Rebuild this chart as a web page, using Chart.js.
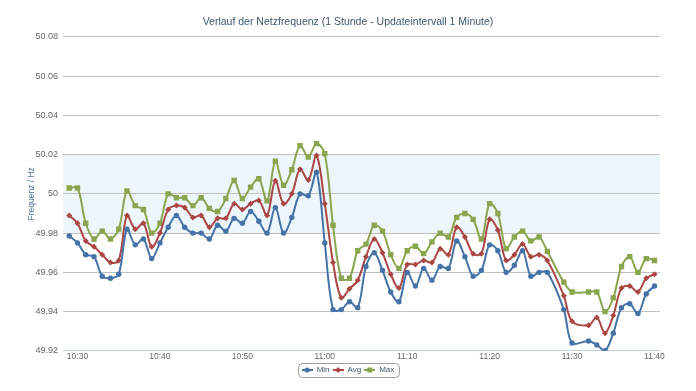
<!DOCTYPE html>
<html>
<head>
<meta charset="utf-8">
<script src="https://cdn.jsdelivr.net/npm/chart.js@4.4.0/dist/chart.umd.min.js"></script>
<style>
  html, body { margin: 0; padding: 0; background: #fff; }
</style>
</head>
<body>
<canvas id="freqChart" width="696" height="391"></canvas>
<script>
const times = [
    '10:29', '10:30', '10:31', '10:32', '10:33', '10:34', '10:35', '10:36', '10:37', '10:38',
    '10:39', '10:40', '10:41', '10:42', '10:43', '10:44', '10:45', '10:46', '10:47', '10:48',
    '10:49', '10:50', '10:51', '10:52', '10:53', '10:54', '10:55', '10:56', '10:57', '10:58',
    '10:59', '11:00', '11:01', '11:02', '11:03', '11:04', '11:05', '11:06', '11:07', '11:08',
    '11:09', '11:10', '11:11', '11:12', '11:13', '11:14', '11:15', '11:16', '11:17', '11:18',
    '11:19', '11:20', '11:21', '11:22', '11:23', '11:24', '11:25', '11:26', '11:27',
    '11:29', '11:30',
    '11:32', '11:33', '11:34', '11:35', '11:36', '11:37', '11:38', '11:39', '11:40'
];
const minValues = [
    49.9785, 49.975, 49.969, 49.968, 49.958, 49.957, 49.959, 49.982, 49.974, 49.977,
    49.967, 49.975, 49.983, 49.989, 49.983, 49.980, 49.980, 49.977, 49.984, 49.981,
    49.9875, 49.985, 49.991, 49.986, 49.980, 49.993, 49.980, 49.988, 50.000, 49.999,
    50.011, 49.975, 49.941, 49.941, 49.945, 49.942, 49.963, 49.970, 49.961, 49.950,
    49.945, 49.960, 49.953, 49.962, 49.956, 49.963, 49.962, 49.976, 49.968, 49.958,
    49.961, 49.974, 49.971, 49.960, 49.9636, 49.971, 49.958, 49.960, 49.960,
    49.941, 49.924,
    49.925, 49.923, 49.920, 49.929, 49.942, 49.944, 49.939, 49.949, 49.953
];
const avgValues = [
    49.989, 49.985, 49.976, 49.973, 49.969, 49.965, 49.966, 49.989, 49.982, 49.985,
    49.973, 49.980, 49.992, 49.994, 49.993, 49.988, 49.989, 49.983, 49.9875, 49.9875,
    49.995, 49.992, 49.995, 49.9966, 49.989, 50.0067, 49.995, 50.000, 50.0125, 50.007,
    50.0195, 49.995, 49.965, 49.947, 49.9516, 49.956, 49.968, 49.977, 49.970, 49.959,
    49.952, 49.964, 49.964, 49.966, 49.965, 49.972, 49.969, 49.983, 49.978, 49.9695,
    49.9695, 49.987, 49.9815, 49.966, 49.969, 49.9745, 49.968, 49.969, 49.966,
    49.948, 49.935,
    49.933, 49.937, 49.929, 49.938, 49.952, 49.953, 49.950, 49.957, 49.959
];
const maxValues = [
    50.003, 50.003, 49.985, 49.977, 49.981, 49.977, 49.982, 50.0015, 49.994, 49.992,
    49.980, 49.985, 50.000, 49.998, 49.998, 49.994, 49.998, 49.9926, 49.991, 49.9976,
    50.0068, 49.9976, 50.0034, 50.0077, 49.9964, 50.0166, 50.0044, 50.0123, 50.0246, 50.0188,
    50.0256, 50.0205, 49.984, 49.957, 49.957, 49.971, 49.9744, 49.984, 49.981, 49.969,
    49.962, 49.971, 49.9733, 49.9695, 49.9755, 49.980, 49.978, 49.988, 49.990, 49.987,
    49.977, 49.995, 49.990, 49.972, 49.978, 49.981, 49.976, 49.978, 49.9707,
    49.955, 49.950,
    49.950, 49.950, 49.940, 49.947, 49.963, 49.968, 49.960, 49.967, 49.966
];
const xTickLabels = ['10:30', '10:40', '10:50', '11:00', '11:10', '11:20', '11:30', '11:40'];
const yTickValues = [49.92, 49.94, 49.96, 49.98, 50, 50.02, 50.04, 50.06, 50.08];
const bandRange = [49.98, 50.02];

const FONT = '"Liberation Sans", Arial, sans-serif';
const COLORS = ['#4572A7', '#AA4643', '#89A54E'];

function toMinutes(t) {
    const [h, m] = t.split(':').map(Number);
    return h * 60 + m;
}

function toLabel(v) {
    const h = Math.floor(v / 60);
    const m = Math.round(v - h * 60);
    return h + ':' + String(m).padStart(2, '0');
}

function points(values) {
    return values.map((v, i) => ({ x: toMinutes(times[i]), y: v }));
}

// small line+marker icons for the legend
function makeIcon(color, shape) {
    const c = document.createElement('canvas');
    c.width = 11;
    c.height = 8;
    const g = c.getContext('2d');
    g.strokeStyle = color;
    g.fillStyle = color;
    g.lineWidth = 2;
    g.beginPath();
    g.moveTo(0, 4);
    g.lineTo(11, 4);
    g.stroke();
    g.beginPath();
    if (shape === 'circle') {
        g.arc(5.5, 4, 2.6, 0, Math.PI * 2);
    } else if (shape === 'diamond') {
        g.moveTo(5.5, 1);
        g.lineTo(8.5, 4);
        g.lineTo(5.5, 7);
        g.lineTo(2.5, 4);
        g.closePath();
    } else {
        g.rect(3, 1.5, 5, 5);
    }
    g.fill();
    return c;
}
const legendIcons = [makeIcon(COLORS[0], 'circle'), makeIcon(COLORS[1], 'diamond'), makeIcon(COLORS[2], 'square')];

const plotBand = {
    id: 'plotBand',
    beforeDraw(chart) {
        const { ctx, chartArea } = chart;
        const y = chart.scales.y;
        const top = y.getPixelForValue(bandRange[1]);
        const bottom = y.getPixelForValue(bandRange[0]);
        ctx.save();
        ctx.fillStyle = 'rgba(68, 170, 213, 0.1)';
        ctx.fillRect(chartArea.left, top, chartArea.right - chartArea.left, bottom - top);
        ctx.restore();
    }
};

const legendFrame = {
    id: 'legendFrame',
    afterDraw(chart) {
        const boxes = chart.legend.legendHitBoxes;
        if (!boxes || !boxes.length) return;
        let l = Infinity, r = -Infinity, t = Infinity, b = -Infinity;
        boxes.forEach(h => {
            l = Math.min(l, h.left);
            r = Math.max(r, h.left + h.width);
            t = Math.min(t, h.top);
            b = Math.max(b, h.top + h.height);
        });
        const mid = (t + b) / 2;
        const ctx = chart.ctx;
        ctx.save();
        ctx.strokeStyle = '#A0A0A0';
        ctx.lineWidth = 1;
        ctx.beginPath();
        ctx.roundRect(Math.round(l - 4) + 0.5, Math.round(mid - 7) + 0.5, Math.round(r - l + 8), 14, 4);
        ctx.stroke();
        ctx.restore();
    }
};

const ctx = document.getElementById('freqChart').getContext('2d');

function lineSet(label, values, color, style, radius) {
    return {
        label: label,
        data: points(values),
        borderColor: color,
        backgroundColor: color,
        borderWidth: 2,
        tension: 0.35,
        pointStyle: style,
        pointRadius: radius,
        pointBorderWidth: 0,
        pointBackgroundColor: color,
        pointHoverRadius: radius
    };
}

new Chart(ctx, {
    type: 'line',
    data: {
        datasets: [
            lineSet('Min', minValues, COLORS[0], 'circle', 2.7),
            lineSet('Avg', avgValues, COLORS[1], 'rectRot', 3),
            lineSet('Max', maxValues, COLORS[2], 'rect', 3.8)
        ]
    },
    options: {
        responsive: false,
        animation: false,
        events: [],
        layout: {
            padding: { left: 0, right: 0, top: 0, bottom: 7 }
        },
        plugins: {
            title: {
                display: true,
                text: 'Verlauf der Netzfrequenz (1 Stunde - Updateintervall 1 Minute)',
                color: '#3E576F',
                font: { family: FONT, size: 10.5, weight: 'normal' },
                padding: { top: 16.3, bottom: 8 }
            },
            legend: {
                position: 'bottom',
                labels: {
                    usePointStyle: true,
                    pointStyleWidth: 11,
                    boxHeight: 8,
                    padding: 3,
                    color: '#3E576F',
                    font: { family: FONT, size: 8 },
                    generateLabels: chart => chart.data.datasets.map((ds, i) => ({
                        text: ds.label,
                        fillStyle: ds.borderColor,
                        strokeStyle: ds.borderColor,
                        lineWidth: 0,
                        pointStyle: legendIcons[i],
                        fontColor: '#3E576F',
                        hidden: false,
                        datasetIndex: i
                    }))
                }
            },
            tooltip: { enabled: false }
        },
        scales: {
            x: {
                type: 'linear',
                min: 628.24,
                max: 700.67,
                afterBuildTicks: scale => {
                    scale.ticks = xTickLabels.map(t => ({ value: toMinutes(t) }));
                },
                ticks: {
                    color: '#666666',
                    font: { family: FONT, size: 8.5 },
                    padding: 1,
                    maxRotation: 0,
                    autoSkip: false,
                    callback: v => toLabel(v)
                },
                grid: { display: false, drawTicks: false },
                border: { display: true, color: '#C0D0E0', width: 1 }
            },
            y: {
                min: 49.92,
                max: 50.08,
                afterBuildTicks: scale => {
                    scale.ticks = yTickValues.map(v => ({ value: v }));
                },
                afterFit: scale => {
                    scale.width = 63;
                },
                ticks: {
                    color: '#666666',
                    font: { family: FONT, size: 9 },
                    padding: 5,
                    callback: v => String(+v.toFixed(2))
                },
                grid: {
                    drawTicks: false,
                    color: c => (c.tick && Math.abs(c.tick.value - 49.92) < 1e-6) ? 'rgba(0,0,0,0)' : '#C0C0C0',
                    lineWidth: 1
                },
                border: { display: false },
                title: {
                    display: true,
                    text: 'Frequenz / Hz',
                    color: '#4D759E',
                    font: { family: FONT, size: 8.5, weight: 'normal' },
                    padding: { top: 27, bottom: 0 }
                }
            },
            // empty right margin so title and legend stay centred on the canvas
            yRight: {
                type: 'linear',
                position: 'right',
                min: 0,
                max: 1,
                afterFit: scale => {
                    scale.width = 36;
                },
                ticks: { display: false },
                grid: { display: false, drawTicks: false },
                border: { display: false }
            }
        }
    },
    plugins: [plotBand, legendFrame]
});
</script>
</body>
</html>
